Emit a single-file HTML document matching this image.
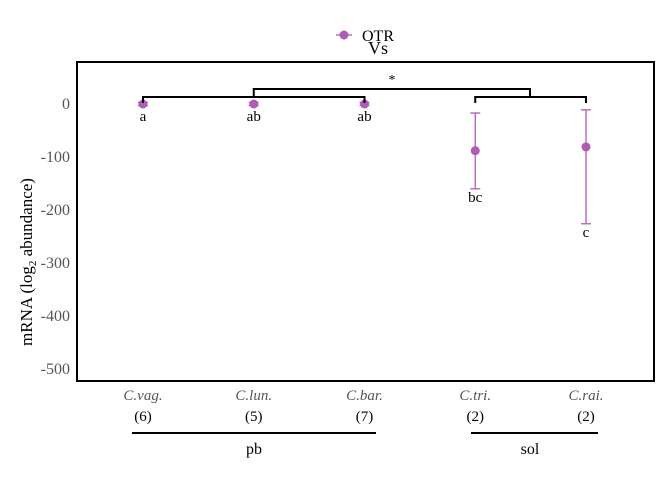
<!DOCTYPE html>
<html><head><meta charset="utf-8"><style>
body{margin:0;background:#fff}
svg text{font-family:"Liberation Serif",serif}
</style></head><body>
<svg id="c" width="672" height="480" xmlns="http://www.w3.org/2000/svg"></svg>
<script>
const categories=["C.vag.","C.lun.","C.bar.","C.tri.","C.rai."];
const counts=["(6)","(5)","(7)","(2)","(2)"];
const means=[0,0,0,-88,-81];
const lower=[-3,-3,-3,-160,-226];
const upper=[3,3,3,-17,-11];
const letters=["a","ab","ab","bc","c"];
const yTicks=[0,-100,-200,-300,-400,-500];
const NS="http://www.w3.org/2000/svg",svg=document.getElementById('c');
const X=i=>143+i*110.75, Y=v=>104-v*0.53;
function el(t,a,txt){const e=document.createElementNS(NS,t);for(const k in a)e.setAttribute(k,a[k]);if(txt!=null)e.textContent=txt;svg.appendChild(e);return e;}
const col="#b05cb5";
let f=el('rect',{x:77,y:62,width:577,height:319,fill:'none',stroke:'#000','stroke-width':2});

yTicks.forEach(v=>{const t=el('text',{x:70,y:Y(v)+5,'text-anchor':'end','font-size':16,fill:'#555'},v);
});
let yt=el('text',{x:32,y:262,'text-anchor':'middle','font-size':17,transform:'rotate(-90 32 262)'});

yt.innerHTML='mRNA (log<tspan font-size="11" dy="4">2</tspan><tspan dy="-4"> abundance)</tspan>';
categories.forEach((c,i)=>{const x=X(i);
 let e=el('line',{x1:x,x2:x,y1:Y(upper[i]),y2:Y(lower[i]),stroke:col,'stroke-width':1.3});
 
 [upper[i],lower[i]].forEach(v=>{let cap=el('line',{x1:x-5,x2:x+5,y1:Y(v),y2:Y(v),stroke:col,'stroke-width':1.3});
  });
 let p=el('circle',{cx:x,cy:Y(means[i]),r:4.5,fill:col});
 
 let l=el('text',{x:x,y:Math.max(Y(lower[i]),Y(means[i])+4)+13,'text-anchor':'middle','font-size':15},letters[i]);
 
 let t=el('text',{x:x,y:400,'text-anchor':'middle','font-size':15,'font-style':'italic',fill:'#555'},c);
 
 let n=el('text',{x:x,y:421,'text-anchor':'middle','font-size':15},counts[i]);
 
});
function bracket(x1,x2,y,yb,name){let p=el('path',{d:`M${x1},${yb}V${y}H${x2}V${yb}`,fill:'none',stroke:'#000','stroke-width':2});
 }
bracket(X(0),X(2),97,103,'bracket-pb');
bracket(X(3),X(4),97,103,'bracket-sol');
bracket(X(1),530,89,96,'bracket-comparison');
let s=el('text',{x:392,y:84,'text-anchor':'middle','font-size':14},'*');

[[132,376,254,'pb'],[471,598,530,'sol']].forEach(g=>{
 let l=el('line',{x1:g[0],x2:g[1],y1:433,y2:433,stroke:'#000','stroke-width':2});
 
 let t=el('text',{x:g[2],y:454,'text-anchor':'middle','font-size':16},g[3]);
 });
let ll=el('line',{x1:336,x2:352,y1:35,y2:35,stroke:col,'stroke-width':1.3});

let lc=el('circle',{cx:344,cy:35,r:4.5,fill:col});

let lt=el('text',{x:362,y:41,'font-size':16},'OTR');

let vt=el('text',{x:378,y:54,'text-anchor':'middle','font-size':18},'Vs');

</script>
</body></html>
